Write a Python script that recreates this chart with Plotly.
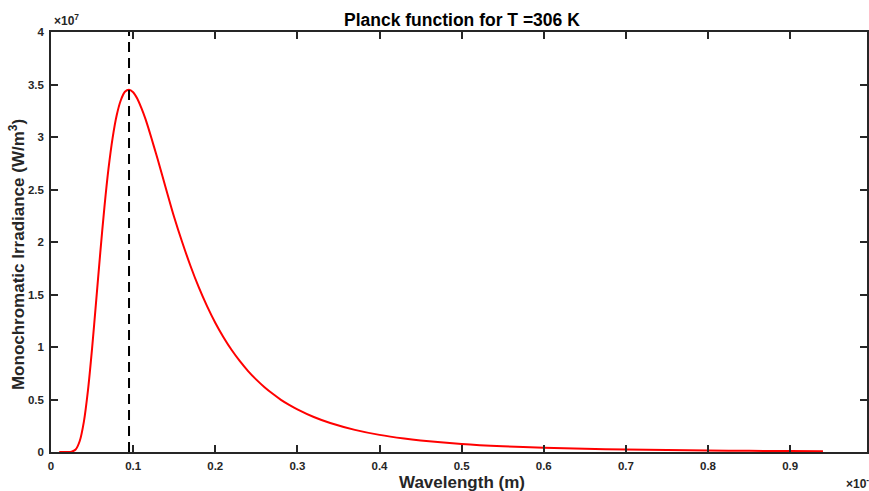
import plotly.graph_objects as go

# Wavelength in units of 1e-4 m, irradiance in units of 1e7 W/m^3
wavelength = [0.010, 0.020, 0.025, 0.030, 0.035, 0.040, 0.045, 0.050, 0.055, 0.060,
              0.065, 0.070, 0.075, 0.080, 0.085, 0.090, 0.095, 0.100, 0.105, 0.110,
              0.115, 0.120, 0.125, 0.130, 0.140, 0.150, 0.160, 0.170, 0.180, 0.190,
              0.200, 0.210, 0.220, 0.230, 0.240, 0.250, 0.260, 0.270, 0.280, 0.290,
              0.300, 0.320, 0.340, 0.370, 0.400, 0.430, 0.450, 0.500, 0.550, 0.600,
              0.650, 0.700, 0.750, 0.800, 0.850, 0.900, 0.940]
irradiance = [0.000, 0.000, 0.003, 0.024, 0.105, 0.287, 0.587, 0.985, 1.439, 1.899,
              2.328, 2.698, 2.990, 3.207, 3.350, 3.431, 3.451, 3.427, 3.367, 3.277,
              3.172, 3.049, 2.918, 2.786, 2.508, 2.236, 1.993, 1.769, 1.567, 1.389,
              1.231, 1.093, 0.971, 0.865, 0.771, 0.689, 0.617, 0.554, 0.497, 0.449,
              0.406, 0.333, 0.276, 0.211, 0.163, 0.128, 0.110, 0.077, 0.055, 0.040,
              0.030, 0.023, 0.018, 0.014, 0.011, 0.009, 0.008]
peak_wavelength = 0.095
y_range = [0, 4]
x_ticks = [0, 0.1, 0.2, 0.3, 0.4, 0.5, 0.6, 0.7, 0.8, 0.9]
y_ticks = [0, 0.5, 1, 1.5, 2, 2.5, 3, 3.5, 4]

AX = "#262626"
FONT = "Liberation Sans, Arial, sans-serif"

fig = go.Figure()
fig.add_trace(go.Scatter(
    x=wavelength, y=irradiance, mode="lines",
    line=dict(color="#ff0000", width=2, shape="spline", smoothing=0.8),
    hoverinfo="skip", showlegend=False))
fig.add_trace(go.Scatter(
    x=[peak_wavelength, peak_wavelength], y=y_range, mode="lines",
    line=dict(color="black", width=2, dash="10px,6px"),
    hoverinfo="skip", showlegend=False))

L, R, T, B = 51, 0, 32, 39
W, H = 869, 491
pw = W - L - R
ph = H - T - B


def px(x):
    return (x - L) / pw


def py(y):
    return (H - B - y) / ph


tickfont = dict(family=FONT, size=11.5, color=AX, weight="bold")
axis_common = dict(
    showline=True, linecolor=AX, linewidth=1.5, mirror="ticks",
    ticks="inside", ticklen=7, tickwidth=1.5, tickcolor=AX,
    showgrid=False, zeroline=False, tickfont=tickfont,
)

fig.update_layout(
    width=W, height=H,
    margin=dict(l=L, r=R, t=T, b=B, pad=0),
    plot_bgcolor="white", paper_bgcolor="white",
    xaxis=dict(range=[0, 0.9936], tickvals=x_ticks, ticklabelstandoff=2,
               ticktext=[("%g" % v) for v in x_ticks], **axis_common),
    yaxis=dict(range=y_range, tickvals=y_ticks, ticklabelstandoff=3,
               ticktext=[("%g" % v) for v in y_ticks], **axis_common),
    annotations=[
        dict(text="Planck function for T =306 K", x=px(463.5), y=py(20),
             xref="paper", yref="paper", xanchor="center", yanchor="middle",
             showarrow=False, font=dict(family=FONT, size=17.5, color="black", weight="bold")),
        dict(text="Wavelength (m)", x=px(462.8), y=py(482),
             xref="paper", yref="paper", xanchor="center", yanchor="middle",
             showarrow=False, font=dict(family=FONT, size=17, color=AX, weight="bold")),
        dict(text="Monochromatic Irradiance (W/m<sup>3</sup>)", x=px(30), y=py(255),
             xref="paper", yref="paper", xanchor="right", yanchor="middle", textangle=-90,
             showarrow=False, font=dict(family=FONT, size=17, color=AX, weight="bold")),
        dict(text="×10<sup>7</sup>", x=px(52), y=py(30),
             xref="paper", yref="paper", xanchor="left", yanchor="bottom",
             showarrow=False, font=dict(family=FONT, size=12, color=AX, weight="bold")),
        dict(text="×10<sup>-4</sup>", x=px(846), y=py(483),
             xref="paper", yref="paper", xanchor="left", yanchor="middle",
             showarrow=False, font=dict(family=FONT, size=12, color=AX, weight="bold")),
    ],
)

fig.write_html("out.html", config={"displayModeBar": False},
               post_script="document.body.style.margin='0';")
